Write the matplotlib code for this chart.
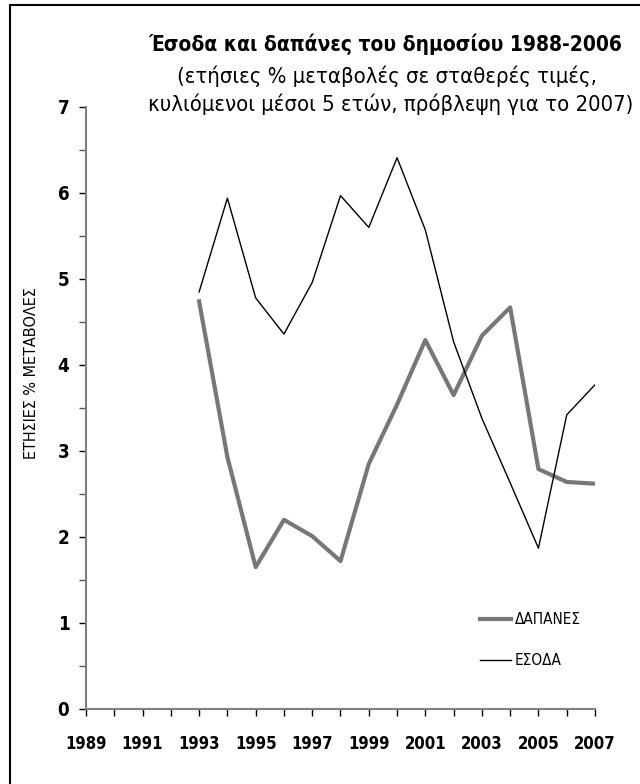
import numpy as np
import matplotlib
matplotlib.use("Agg")
import matplotlib.pyplot as plt
from matplotlib.patches import Rectangle

plt.rcParams['font.family'] = ['DejaVu Sans']
plt.rcParams['font.stretch'] = 'condensed'

years = [1993, 1994, 1995, 1996, 1997, 1998, 1999, 2000,
         2001, 2002, 2003, 2004, 2005, 2006, 2007]
dapanes = [4.74, 2.93, 1.65, 2.20, 2.01, 1.72, 2.85, 3.54,
           4.29, 3.65, 4.34, 4.67, 2.79, 2.64, 2.62]
esoda = [4.85, 5.94, 4.78, 4.36, 4.96, 5.97, 5.60, 6.41,
         5.57, 4.27, 3.38, 2.63, 1.87, 3.42, 3.77]
title_lines = ['Έσοδα και δαπάνες του δημοσίου 1988-2006',
               '(ετήσιες % μεταβολές σε σταθερές τιμές,',
               'κυλιόμενοι μέσοι 5 ετών, πρόβλεψη για το 2007)']


def fit_width(txt, width_px, renderer):
    # shrink the font until the text is as wide as in the reference
    w = txt.get_window_extent(renderer).width
    txt.set_fontsize(txt.get_fontsize() * width_px / w)


fig = plt.figure(figsize=(6.4, 7.84), dpi=100)
ax = fig.add_axes([86/640, 1-709/784, (595-86)/640, (709-107)/784])

ax.plot(years, dapanes, color='#777777', lw=3.0, label='ΔΑΠΑΝΕΣ')
ax.plot(years, esoda, color='black', lw=1.0, label='ΕΣΟΔΑ')

ax.set_xlim(1989, 2007)
ax.set_ylim(0, 7)
ax.set_xticks(range(1989, 2008))
ax.set_xticklabels([str(y) if (y - 1989) % 2 == 0 else '' for y in range(1989, 2008)],
                   fontsize=12, fontweight='bold')
ax.set_yticks(range(0, 8))
ax.set_yticklabels([str(v) for v in range(0, 8)], fontsize=13.5, fontweight='bold')
ax.set_yticks(np.arange(0.5, 7, 1), minor=True)
ax.tick_params(axis='both', which='major', length=5, width=1, color='black', pad=7)
ax.tick_params(axis='y', which='minor', length=5, width=1, color='#555555')
ax.tick_params(axis='x', pad=14)

for s in ['top', 'right']:
    ax.spines[s].set_visible(False)
for s in ['left', 'bottom']:
    ax.spines[s].set_color('#808080')
    ax.spines[s].set_linewidth(1.5)

ax.set_ylabel('ΕΤΗΣΙΕΣ % ΜΕΤΑΒΟΛΕΣ', fontsize=11.5)
ax.yaxis.set_label_coords(-0.092, 0.558)

leg = ax.legend(loc='lower right', bbox_to_anchor=(1.0, 0.045), frameon=False,
                fontsize=11, handlelength=2.0, handletextpad=0.3, labelspacing=1.7)

t1 = fig.text(385/640, 1-44/784, title_lines[0], ha='center', va='center',
              fontsize=18, fontweight='bold')
t2 = fig.text(387/640, 1-76/784, title_lines[1], ha='center', va='center', fontsize=17)
t3 = fig.text(391/640, 1-104/784, title_lines[2], ha='center', va='center', fontsize=17)

r = fig.canvas.get_renderer()
fit_width(t1, 474, r)
fit_width(t2, 419, r)
fit_width(t3, 486, r)

fig.patches.append(Rectangle((10/640, -0.1), 1.2, 1.1 - 5/784, transform=fig.transFigure,
                             fill=False, edgecolor='black', lw=1.5))

fig.savefig('out.png', dpi=100)
